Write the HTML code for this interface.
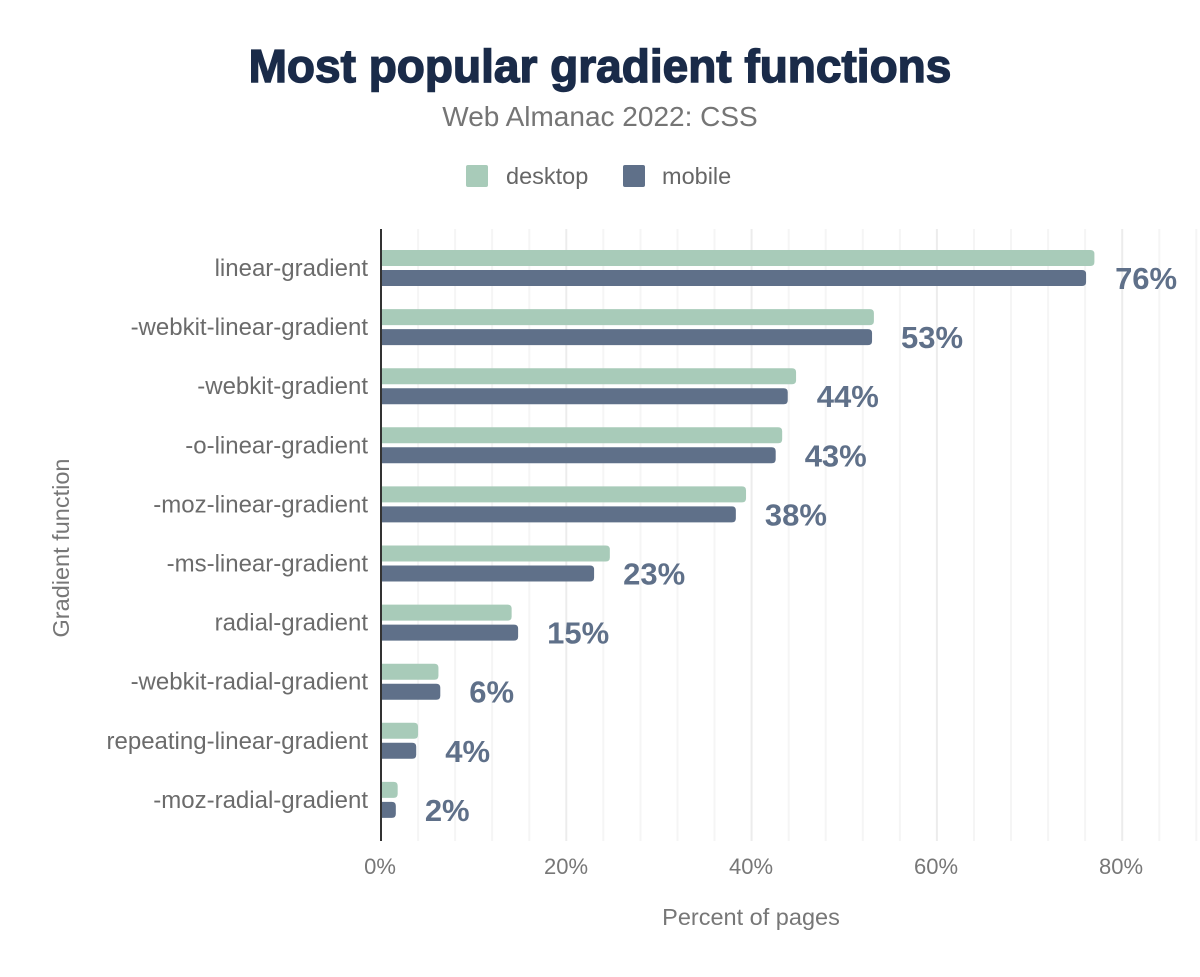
<!DOCTYPE html>
<html><head><meta charset="utf-8"><style>
body{margin:0;background:#fff}
svg text{font-family:"Liberation Sans",Arial,sans-serif}
</style></head><body>
<svg width="1200" height="972" xmlns="http://www.w3.org/2000/svg">
<rect width="1200" height="972" fill="#fff"/>
<text x="600" y="82" text-anchor="middle" font-size="46" font-weight="900" fill="#1a2b49" stroke="#1a2b49" stroke-width="1.4">Most popular gradient functions</text>
<text x="600" y="126" text-anchor="middle" font-size="28" fill="#757575">Web Almanac 2022: CSS</text>
<rect x="466" y="165" width="22" height="22" rx="2" fill="#a8cbb9"/>
<text x="506" y="184" font-size="23.5" fill="#666">desktop</text>
<rect x="623" y="165" width="22" height="22" rx="2" fill="#5f7089"/>
<text x="662" y="184" font-size="23.5" fill="#666">mobile</text>
<g id="grid"></g>
<line x1="381" y1="229" x2="381" y2="841" stroke="#333" stroke-width="2"/>
<g id="bars"></g>
<g font-size="22" fill="#777" text-anchor="middle">
<text x="380" y="874">0%</text><text x="566" y="874">20%</text><text x="751" y="874">40%</text><text x="936" y="874">60%</text><text x="1121" y="874">80%</text>
</g>
<text x="751" y="925" text-anchor="middle" font-size="23.5" fill="#777">Percent of pages</text>
<text transform="translate(69,548) rotate(-90)" text-anchor="middle" font-size="23.5" fill="#777">Gradient function</text>
</svg>
<script>
var ns="http://www.w3.org/2000/svg",s=9.265,x0=381;
var g=document.getElementById("grid"),b=document.getElementById("bars");
function el(p,t,a,txt){var e=document.createElementNS(ns,t);for(var k in a)e.setAttribute(k,a[k]);if(txt)e.textContent=txt;p.appendChild(e);return e;}
for(var i=1;i<=22;i++){var x=x0+i*4*s;el(g,"line",{x1:x,y1:229,x2:x,y2:841,stroke:i%5==0?"#ececec":"#f5f5f5","stroke-width":2});}
var d=[["linear-gradient",77,76.1,"76%"],["-webkit-linear-gradient",53.2,53,"53%"],["-webkit-gradient",44.8,43.9,"44%"],["-o-linear-gradient",43.3,42.6,"43%"],["-moz-linear-gradient",39.4,38.3,"38%"],["-ms-linear-gradient",24.7,23,"23%"],["radial-gradient",14.1,14.8,"15%"],["-webkit-radial-gradient",6.2,6.4,"6%"],["repeating-linear-gradient",4,3.8,"4%"],["-moz-radial-gradient",1.8,1.6,"2%"]];
function bar(y,w,c){var x1=x0+1,x2=x0+w*s,r=4;el(b,"path",{d:"M"+x1+" "+y+"H"+(x2-r)+"Q"+x2+" "+y+" "+x2+" "+(y+r)+"V"+(y+16-r)+"Q"+x2+" "+(y+16)+" "+(x2-r)+" "+(y+16)+"H"+x1+"Z",fill:c});}
d.forEach(function(r,i){var y=250+i*59.1;
bar(y,r[1],"#a8cbb9");bar(y+20,r[2],"#5f7089");
el(b,"text",{x:368,y:y+26,"text-anchor":"end","font-size":24,fill:"#6b6b6b"},r[0]);
el(b,"text",{x:x0+r[2]*s+29,y:y+39,"font-size":31,"font-weight":"bold",fill:"#5f7089"},r[3]);});
</script>
</body></html>
